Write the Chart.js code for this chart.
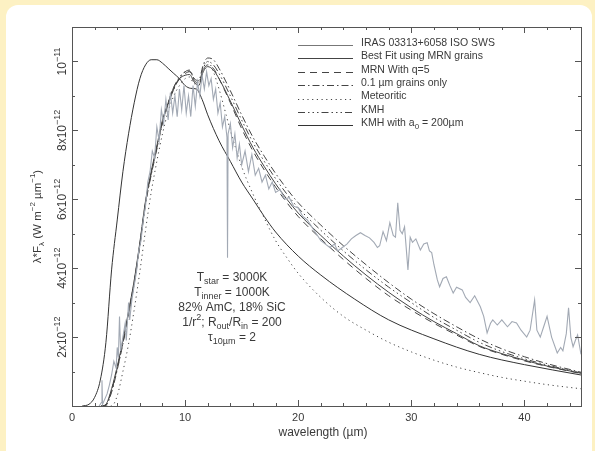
<!DOCTYPE html>
<html>
<head>
<meta charset="utf-8">
<script src="https://cdn.jsdelivr.net/npm/chart.js@4"></script>
<style>
  html, body { margin: 0; padding: 0; background: #fdf1c3; }
  #card { position: absolute; left: 6px; top: 5px; width: 586px; height: 470px; background: #fff; border-radius: 12px; }
  #chart { position: absolute; left: 0; top: 0; }
</style>
</head>
<body>
<div id="card"></div>
<canvas id="chart" width="595" height="451"></canvas>
<script>
// flux values are in units of 1e-12 W m^-2 um^-1
const irasWl = [2.4, 2.6, 2.65, 2.7, 2.9, 3.1, 3.3, 3.5, 3.7, 3.9, 4.0, 4.1, 4.2, 4.3, 4.5, 4.7, 4.8, 5.0, 5.1, 5.3,
  5.5, 5.7, 5.9, 6.1, 6.3, 6.5, 6.7, 6.9, 7.1, 7.3, 7.5, 7.7, 7.9, 8.1, 8.3, 8.5, 8.7, 8.9, 9.1, 9.3,
  9.5, 9.7, 9.9, 10.1, 10.3, 10.5, 10.7, 10.9, 11.1, 11.3, 11.5, 11.7, 11.9, 12.1, 12.3, 12.5, 12.7, 12.9, 13.1, 13.3,
  13.5, 13.7, 13.75, 13.8, 14.0, 14.2, 14.4, 14.6, 14.8, 15.0, 15.3, 15.6, 15.9, 16.2, 16.5, 16.8, 17.1, 17.4, 17.7, 18.0,
  18.4, 18.8, 19.2, 19.6, 20.0, 20.4, 20.8, 21.2, 21.6, 22.0, 22.4, 22.8, 23.2, 23.5, 23.9, 24.3, 24.7, 25.1, 25.5, 25.9,
  26.3, 26.7, 27.0, 27.2, 27.5, 27.8, 28.1, 28.4, 28.6, 28.8, 29.0, 29.2, 29.4, 29.7, 29.9, 30.1, 30.4, 30.8, 31.1, 31.4,
  31.6, 31.8, 32.0, 32.3, 32.5, 32.8, 33.1, 33.4, 33.7, 34.0, 34.5, 34.8, 35.2, 35.6, 36.1, 36.4, 36.7, 37.0, 37.2, 37.6,
  38.0, 38.5, 38.9, 39.3, 39.7, 40.2, 40.5, 40.9, 41.1, 41.4, 41.7, 42.0, 42.4, 42.9, 43.2, 43.4, 43.7, 43.9, 44.1, 44.3,
  44.5, 44.7, 45.0];
const irasFlux = [0, 0.1, 0.75, 0.05, 0.2, 0.35, 0.6, 0.9, 1.3, 1.1, 1.7, 1.4, 2.6, 1.6, 2.0, 2.4, 1.9, 3.0, 2.5, 3.1,
  3.5, 3.9, 4.5, 4.8, 5.4, 5.8, 6.5, 6.8, 7.4, 7.2, 8.1, 7.7, 8.6, 8.2, 8.9, 8.3, 9.1, 8.5, 9.0, 8.4,
  9.2, 8.6, 9.3, 8.5, 9.0, 8.4, 9.3, 8.7, 9.4, 9.0, 9.6, 9.2, 9.7, 9.3, 9.5, 8.9, 9.2, 8.5, 8.8, 8.1,
  8.4, 7.8, 4.3, 7.9, 8.2, 7.5, 7.9, 7.2, 7.6, 7.0, 7.4, 6.8, 7.3, 6.7, 6.9, 6.5, 6.7, 6.3, 6.5, 6.2,
  6.28, 6.0, 6.05, 5.8, 5.75, 5.5, 5.4, 5.2, 5.0, 4.8, 4.7, 4.6, 4.7, 4.5, 4.6, 4.7, 4.85, 4.95, 5.03, 4.95,
  4.88, 4.75, 4.6, 4.65, 5.06, 4.8, 5.32, 4.95, 4.9, 5.9, 5.1, 5.0, 5.2, 3.95, 4.9, 4.75, 4.85, 4.53, 4.7, 4.74,
  4.5, 4.45, 4.1, 3.66, 3.46, 3.7, 3.75, 3.5, 3.28, 3.45, 3.37, 3.15, 3.0, 3.2, 2.88, 2.6, 2.12, 2.4, 2.5, 2.35,
  2.5, 2.3, 2.45, 2.41, 2.2, 2.0, 2.2, 3.08, 2.2, 2.0, 2.3, 2.6, 2.0, 1.54, 1.7, 1.6, 2.1, 2.85, 2.0, 1.72,
  1.9, 2.06, 1.5];

const modelWl = [2.6, 3, 3.5, 4, 4.5, 5, 5.5, 6, 6.5, 7, 7.5, 8, 8.5, 9, 9.5, 10, 10.4, 10.8, 11.2, 11.6, 12, 12.5,
  13, 14, 15, 16, 17, 18, 19, 20, 22, 24, 26, 28, 30, 32, 34, 36, 38, 40, 42, 45];
const bestFit = [0, 0.05, 0.5, 1.15, 1.9, 2.75, 3.65, 4.75, 5.95, 6.8, 7.55, 8.3, 8.8, 9.25, 9.5, 9.6, 9.62, 9.4, 9.3, 9.7, 9.85, 9.75,
  9.5, 8.85, 8.15, 7.5, 6.95, 6.45, 6.0, 5.6, 4.95, 4.35, 3.8, 3.3, 2.85, 2.45, 2.1, 1.75, 1.52, 1.33, 1.16, 0.95];
const mrnQ5 = [0, 0.03, 0.45, 1.1, 1.85, 2.7, 3.6, 4.7, 5.9, 6.75, 7.5, 8.25, 8.75, 9.2, 9.5, 9.65, 9.7, 9.45, 9.35, 9.75, 9.9, 9.8,
  9.5, 8.8, 8.05, 7.4, 6.85, 6.35, 5.9, 5.5, 4.85, 4.25, 3.7, 3.2, 2.78, 2.4, 2.06, 1.73, 1.5, 1.31, 1.15, 0.94];
const grains01 = [0, 0.02, 0.4, 1.05, 1.8, 2.65, 3.55, 4.65, 5.85, 6.7, 7.45, 8.2, 8.75, 9.2, 9.5, 9.7, 9.75, 9.5, 9.45, 9.9, 10.1, 10.05,
  9.8, 9.15, 8.45, 7.8, 7.25, 6.75, 6.3, 5.9, 5.25, 4.65, 4.1, 3.58, 3.1, 2.68, 2.3, 1.95, 1.66, 1.43, 1.23, 0.98];
const meteoritic = [0, 0, 0, 0.3, 1.0, 1.8, 2.8, 3.9, 5.1, 6.2, 7.1, 7.9, 8.55, 9.0, 9.3, 9.5, 9.55, 9.35, 9.4, 9.85, 10.0, 9.7,
  9.2, 8.0, 6.95, 6.15, 5.45, 4.8, 4.3, 3.85, 3.15, 2.6, 2.2, 1.85, 1.57, 1.33, 1.13, 0.97, 0.83, 0.72, 0.62, 0.5];
const kmh = [0, 0.03, 0.45, 1.1, 1.85, 2.7, 3.6, 4.7, 5.9, 6.75, 7.5, 8.25, 8.8, 9.25, 9.55, 9.7, 9.72, 9.5, 9.4, 9.8, 10.0, 9.9,
  9.65, 9.0, 8.3, 7.65, 7.1, 6.6, 6.15, 5.75, 5.1, 4.5, 3.95, 3.45, 3.0, 2.57, 2.2, 1.85, 1.58, 1.37, 1.19, 0.96];

const kmh200Wl = [0.9, 1.5, 2, 2.5, 3, 3.5, 4, 4.5, 5, 5.5, 6, 6.5, 7, 7.5, 8, 8.5, 9, 9.5, 10, 10.5, 11, 11.5, 12,
  13, 14, 15, 16, 17, 18, 20, 22, 25, 28, 32, 36, 40, 45];
const kmh200 = [0, 0.05, 0.25, 0.75, 1.85, 3.95, 5.4, 6.8, 7.9, 8.8, 9.5, 9.9, 10.05, 10.05, 9.95, 9.8, 9.65, 9.5, 9.3, 9.22, 9.2, 8.9, 8.45,
  7.7, 7.1, 6.5, 6.0, 5.5, 5.05, 4.35, 3.8, 3.1, 2.5, 1.95, 1.5, 1.2, 0.9];

const xMajor = [0, 10, 20, 30, 40];
const xMinor = [2, 4, 6, 8, 12, 14, 16, 18, 22, 24, 26, 28, 32, 34, 36, 38, 42, 44];
const yMajor = [2, 4, 6, 8, 10];
const yMinor = [1, 3, 5, 7, 9];
const yTickLabels = [
  [["2x10", ""], ["\u221212", "sup"]],
  [["4x10", ""], ["\u221212", "sup"]],
  [["6x10", ""], ["\u221212", "sup"]],
  [["8x10", ""], ["\u221212", "sup"]],
  [["10", ""], ["\u221211", "sup"]]
];

const FONT = "'Liberation Sans', Arial, sans-serif";
const INK = "#3a3a3a";

const pts = (xs, ys) => xs.map((x, i) => ({ x, y: ys[i] }));

function line(label, xs, ys, color, dash, width) {
  return {
    label,
    data: pts(xs, ys),
    showLine: true,
    borderColor: color,
    borderWidth: width || 1,
    borderDash: dash || [],
    pointRadius: 0,
    tension: 0,
    cubicInterpolationMode: "monotone",
    fill: false,
  };
}

const datasets = [
  Object.assign(line("IRAS 03313+6058 ISO SWS", irasWl, irasFlux, "#a2a9b4", [], 1.1), { cubicInterpolationMode: "default" }),
  line("Best Fit using MRN grains", modelWl, bestFit, "#444"),
  line("MRN With q=5", modelWl, mrnQ5, "#444", [7, 5]),
  line("0.1 \u00b5m grains only", modelWl, grains01, "#444", [7, 3, 1.5, 3]),
  line("Meteoritic", modelWl, meteoritic, "#444", [1.2, 3.5]),
  line("KMH", modelWl, kmh, "#444", [7, 3, 1.5, 3, 1.5, 3, 1.5, 3]),
  line("KMH with a0 = 200\u00b5m", kmh200Wl, kmh200, "#333"),
];

// draw text with sub/superscript parts
function rich(ctx, parts, x, y, size, align) {
  const small = Math.round(size * 0.72);
  let w = 0;
  for (const [t, k] of parts) {
    ctx.font = `${k ? small : size}px ${FONT}`;
    w += ctx.measureText(t).width;
  }
  let cx = align === "center" ? x - w / 2 : align === "right" ? x - w : x;
  ctx.textBaseline = "middle";
  ctx.textAlign = "left";
  for (const [t, k] of parts) {
    ctx.font = `${k ? small : size}px ${FONT}`;
    const dy = k === "sup" ? -size * 0.42 : k === "sub" ? size * 0.32 : 0;
    ctx.fillText(t, cx, y + dy);
    cx += ctx.measureText(t).width;
  }
}

const legendLabels = [
  [["IRAS 03313+6058 ISO SWS", ""]],
  [["Best Fit using MRN grains", ""]],
  [["MRN With q=5", ""]],
  [["0.1 ", ""], ["\u00b5m", ""], [" grains only", ""]],
  [["Meteoritic", ""]],
  [["KMH", ""]],
  [["KMH with a", ""], ["0", "sub"], [" = 200\u00b5m", ""]],
];

const annotation = [
  [["T", ""], ["star", "sub"], [" = 3000K", ""]],
  [["T", ""], ["inner", "sub"], [" = 1000K", ""]],
  [["82% AmC, 18% SiC", ""]],
  [["1/r", ""], ["2", "sup"], ["; R", ""], ["out", "sub"], ["/R", ""], ["in", "sub"], [" = 200", ""]],
  [["\u03c4", ""], ["10\u00b5m", "sub"], [" = 2", ""]],
];

const decor = {
  id: "decor",
  afterDatasetsDraw(chart) {
    const { ctx, chartArea: a, scales } = chart;
    const sx = scales.x, sy = scales.y;
    ctx.save();
    ctx.strokeStyle = "#555";
    ctx.lineWidth = 1;
    ctx.setLineDash([]);
    ctx.strokeRect(a.left + 0.5, a.top + 0.5, a.right - a.left, a.bottom - a.top);

    const tickX = (vals, len) => {
      for (const v of vals) {
        const px = Math.round(sx.getPixelForValue(v)) + 0.5;
        ctx.beginPath();
        ctx.moveTo(px, a.bottom); ctx.lineTo(px, a.bottom - len);
        ctx.moveTo(px, a.top); ctx.lineTo(px, a.top + len);
        ctx.stroke();
      }
    };
    const tickY = (vals, len) => {
      for (const v of vals) {
        const py = Math.round(sy.getPixelForValue(v)) + 0.5;
        ctx.beginPath();
        ctx.moveTo(a.left, py); ctx.lineTo(a.left + len, py);
        ctx.moveTo(a.right, py); ctx.lineTo(a.right - len, py);
        ctx.stroke();
      }
    };
    tickX(xMajor, 6); tickX(xMinor, 3);
    tickY(yMajor, 6); tickY(yMinor, 3);

    ctx.fillStyle = INK;
    // y tick labels, rotated
    yMajor.forEach((v, i) => {
      const py = sy.getPixelForValue(v);
      ctx.save();
      ctx.translate(63, py);
      ctx.rotate(-Math.PI / 2);
      rich(ctx, yTickLabels[i], 0, 0, 12, "center");
      ctx.restore();
    });

    // y title
    ctx.save();
    ctx.translate(38, (a.top + a.bottom) / 2);
    ctx.rotate(-Math.PI / 2);
    rich(ctx, [["\u03bb*F", ""], ["\u03bb", "sub"], [" (W m", ""], ["\u22122", "sup"], [" \u00b5m", ""], ["\u22121", "sup"], [")", ""]], 0, 0, 11.5, "center");
    ctx.restore();

    // x title
    rich(ctx, [["wavelength (\u00b5m)", ""]], 323, 433, 12, "center");

    // legend
    const ds = chart.data.datasets;
    legendLabels.forEach((lab, i) => {
      const y = 43 + i * 13.4;
      ctx.save();
      ctx.strokeStyle = i === 0 ? "#777" : ds[i].borderColor;
      ctx.setLineDash(ds[i].borderDash);
      ctx.lineWidth = 1;
      ctx.beginPath();
      ctx.moveTo(298, Math.round(y + 2) + 0.5);
      ctx.lineTo(353, Math.round(y + 2) + 0.5);
      ctx.stroke();
      ctx.restore();
      rich(ctx, lab, 361, y, 10.5, "left");
    });

    // model notes
    annotation.forEach((lab, i) => rich(ctx, lab, 232, 278 + i * 15, 12, "center"));
    ctx.restore();
  },
};

new Chart(document.getElementById("chart"), {
  type: "scatter",
  data: { datasets },
  options: {
    responsive: false,
    animation: false,
    layout: { padding: { left: 0, top: 27, right: 14, bottom: 0 } },
    plugins: { legend: { display: false }, tooltip: { enabled: false } },
    scales: {
      x: {
        type: "linear", min: 0, max: 45,
        grid: { display: false, drawTicks: false },
        border: { display: false },
        ticks: { stepSize: 10, includeBounds: false, padding: 5, color: INK, font: { family: FONT, size: 11 } },
        afterFit: (s) => { s.height = 45; },
      },
      y: {
        type: "linear", min: 0, max: 11,
        grid: { display: false, drawTicks: false },
        border: { display: false },
        ticks: { display: false, stepSize: 2 },
        afterFit: (s) => { s.width = 72; },
      },
    },
  },
  plugins: [decor],
});
</script>
</body>
</html>
